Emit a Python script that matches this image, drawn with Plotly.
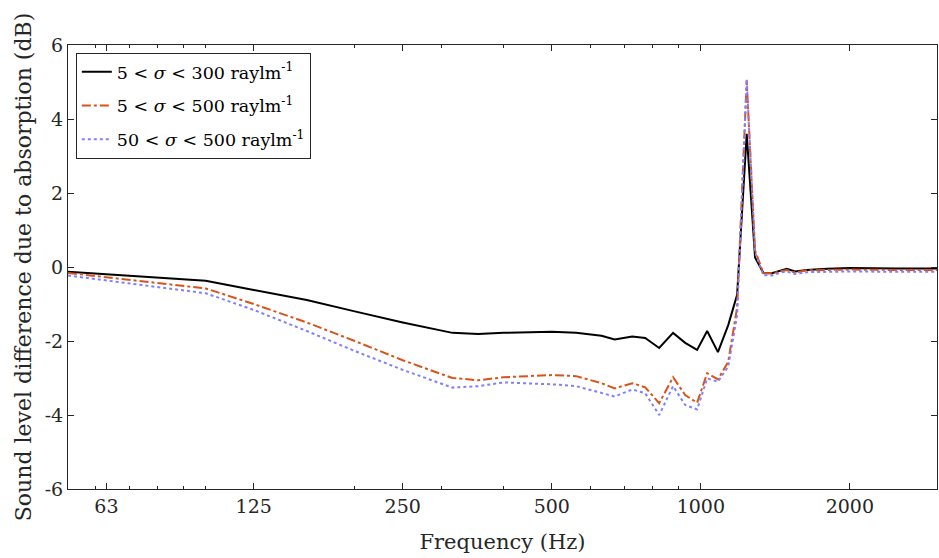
import plotly.graph_objects as go

freq = [52.7, 100, 125, 160, 200, 250, 315, 355, 400, 500, 560, 630, 670, 727, 772, 824,
        879, 930, 983, 1030, 1083, 1136, 1184, 1238, 1287, 1338, 1391, 1458, 1492, 1550,
        1637, 1800, 2000, 2500, 3000]

s5_300 = [-0.13, -0.37, -0.62, -0.89, -1.20, -1.50, -1.78, -1.81, -1.78, -1.75, -1.78, -1.86,
          -1.96, -1.88, -1.92, -2.19, -1.78, -2.05, -2.24, -1.73, -2.30, -1.57, -0.75, 3.60,
          0.26, -0.16, -0.17, -0.10, -0.05, -0.12, -0.08, -0.05, -0.03, -0.04, -0.04]

s5_500 = [-0.16, -0.58, -1.00, -1.50, -2.00, -2.52, -3.00, -3.06, -2.98, -2.92, -2.95, -3.14,
          -3.28, -3.14, -3.25, -3.68, -2.98, -3.46, -3.67, -2.87, -3.04, -2.56, -1.10, 5.04,
          0.45, -0.17, -0.17, -0.10, -0.08, -0.15, -0.09, -0.08, -0.07, -0.08, -0.08]

s50_500 = [-0.23, -0.71, -1.16, -1.73, -2.27, -2.78, -3.26, -3.22, -3.12, -3.17, -3.22, -3.41,
           -3.50, -3.31, -3.41, -4.00, -3.22, -3.73, -3.85, -3.01, -3.10, -2.69, -1.30, 5.08,
           0.40, -0.22, -0.23, -0.14, -0.12, -0.19, -0.14, -0.13, -0.12, -0.13, -0.13]

names = ["5 &lt; <i>σ</i> &lt; 300 raylm<sup>-1</sup>",
         "5 &lt; <i>σ</i> &lt; 500 raylm<sup>-1</sup>",
         "50 &lt; <i>σ</i> &lt; 500 raylm<sup>-1</sup>"]

x_ticks = [63, 125, 250, 500, 1000, 2000]
x_minor = [60, 70, 80, 90, 100, 200, 300, 400, 600, 700, 800, 900, 3000]
y_ticks = [-6, -4, -2, 0, 2, 4, 6]
y_ticktext = ["-6", "-4", "-2", "0", "2", "4", "6"]

AX = "#262626"
FONT = "DejaVu Serif"
XRANGE = [1.7218, 3.4771]

fig = go.Figure()
fig.add_trace(go.Scatter(x=freq, y=s5_300, mode="lines", name=names[0], legendgroup="a",
                         line=dict(color="black", width=2)))
fig.add_trace(go.Scatter(x=freq, y=s5_500, mode="lines", name=names[1], legendgroup="b",
                         line=dict(color="#D95319", width=2, dash="dashdot")))
fig.add_trace(go.Scatter(x=freq, y=s50_500, mode="lines", name=names[2], legendgroup="c",
                         line=dict(color="#7F7FFF", width=2, dash="dot")))

fig.update_layout(
    width=939, height=558,
    margin=dict(l=68, r=2, t=45, b=69),
    paper_bgcolor="white", plot_bgcolor="white",
    font=dict(family=FONT, size=19, color=AX),
    showlegend=True,
    legend=dict(x=0.009, y=0.982, xanchor="left", yanchor="top",
                bgcolor="white", bordercolor=AX, borderwidth=1,
                font=dict(family=FONT, size=17.5, color="black"),
                itemwidth=30, tracegroupgap=8),
    xaxis=dict(type="log", range=XRANGE,
               tickvals=x_ticks, ticktext=[str(v) for v in x_ticks],
               ticks="inside", ticklen=6, tickcolor=AX, tickwidth=1,
               showline=True, linecolor=AX, linewidth=1, mirror="ticks",
               showgrid=False, zeroline=False,
               tickfont=dict(family=FONT, size=19, color=AX),
               title=dict(text="Frequency (Hz)", font=dict(family=FONT, size=21, color=AX),
                          standoff=18)),
    xaxis2=dict(type="log", range=XRANGE, overlaying="x", side="bottom",
                tickvals=x_minor, ticks="inside", ticklen=3, tickcolor=AX, tickwidth=1,
                showticklabels=False, showline=False, mirror="ticks",
                showgrid=False, zeroline=False),
    yaxis=dict(range=[-6, 6], tickvals=y_ticks, ticktext=y_ticktext,
               ticks="inside", ticklen=6, tickcolor=AX, tickwidth=1,
               showline=True, linecolor=AX, linewidth=1, mirror="ticks",
               showgrid=False, zeroline=False,
               tickfont=dict(family=FONT, size=19, color=AX),
               title=dict(text="Sound level difference due to absorption (dB)",
                          font=dict(family=FONT, size=22, color=AX), standoff=6)),
)
# invisible helper trace so the minor-tick axis is drawn
fig.add_trace(go.Scatter(x=[freq[0]], y=[s5_300[0]], xaxis="x2", mode="lines",
                         showlegend=False, hoverinfo="skip", line=dict(width=0)))

fig.write_html("out.html")
